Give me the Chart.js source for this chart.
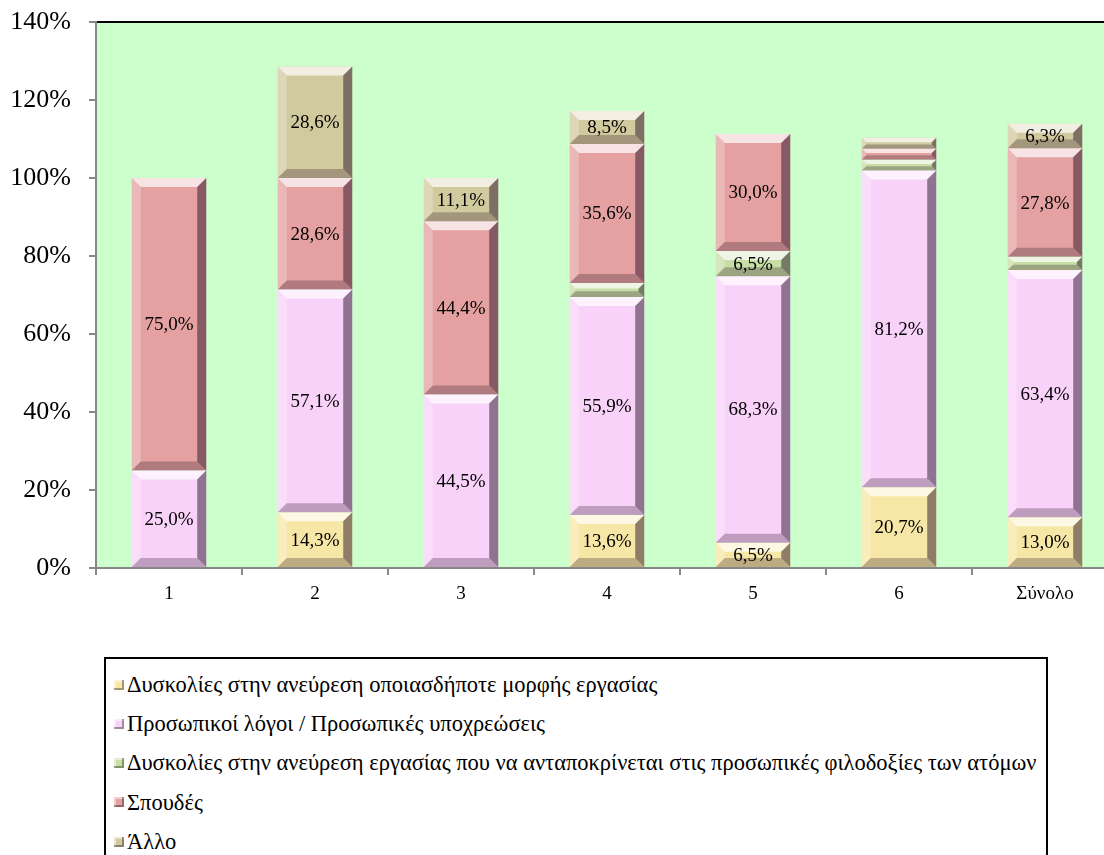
<!DOCTYPE html>
<html>
<head>
<meta charset="utf-8">
<script src="https://cdn.jsdelivr.net/npm/chart.js@4/dist/chart.umd.min.js"></script>
<style>
  html, body { margin:0; padding:0; background:#fff; overflow:hidden; width:1104px; height:855px; }
  #wrap { position:absolute; left:0; top:0; }
  #legend { position:absolute; left:104px; top:657px; width:944px; height:230px; border:2px solid #000; box-sizing:border-box; padding-top:6px; font-family:'Liberation Serif','Times New Roman',serif; font-size:22.5px; color:#000; white-space:nowrap; }
  .li { height:39.2px; line-height:39px; padding-left:8px; }
  .mk { display:inline-block; width:10px; height:10px; margin-right:3px; vertical-align:middle; position:relative; top:-2px; box-shadow: inset -2px -2px 0 rgba(0,0,0,0.35), inset 2px 2px 0 rgba(255,255,255,0.5); }
</style>
</head>
<body>
<div id="wrap"><canvas id="c" width="1130" height="620"></canvas></div>
<div id="legend"></div>
<script>
const categories = ['1', '2', '3', '4', '5', '6', 'Σύνολο'];
const seriesNames = [
  'Δυσκολίες στην ανεύρεση οποιασδήποτε μορφής εργασίας',
  'Προσωπικοί λόγοι / Προσωπικές υποχρεώσεις',
  'Δυσκολίες στην ανεύρεση εργασίας που να ανταποκρίνεται στις προσωπικές φιλοδοξίες των ατόμων',
  'Σπουδές',
  'Άλλο'
];
const difficultyAny   = [0,    14.3, 0,    13.6, 6.5,  20.7, 13.0];
const personal        = [25.0, 57.1, 44.5, 55.9, 68.3, 81.2, 63.4];
const difficultyAmbit = [0,    0,    0,    3.6,  6.5,  2.8,  3.4];
const studies         = [75.0, 28.6, 44.4, 35.6, 30.0, 2.8,  27.8];
const other           = [0,    28.6, 11.1, 8.5,  0,    2.8,  6.3];
const yTicks = [0, 20, 40, 60, 80, 100, 120, 140];

const seriesValues = [difficultyAny, personal, difficultyAmbit, studies, other];
const seriesColors = ['#F7E7A6', '#F8D2F8', '#C9DDA6', '#E5A1A1', '#D2CA9F'];

const bgPlugin = {
  id: 'bg',
  beforeDraw(chart) {
    const {ctx, chartArea: a} = chart;
    ctx.save();
    ctx.fillStyle = '#CCFFCC';
    ctx.fillRect(a.left, a.top, a.right - a.left, a.bottom - a.top);
    ctx.strokeStyle = '#000';
    ctx.lineWidth = 2;
    ctx.beginPath();
    ctx.moveTo(a.left, a.top);
    ctx.lineTo(a.right, a.top);
    ctx.lineTo(a.right, a.bottom);
    ctx.stroke();
    ctx.restore();
  }
};

const bevelPlugin = {
  id: 'bevel',
  afterDatasetsDraw(chart) {
    const ctx = chart.ctx;
    ctx.save();
    chart.data.datasets.forEach((ds, di) => {
      const meta = chart.getDatasetMeta(di);
      meta.data.forEach((el, i) => {
        if (!ds.data[i]) return;
        const p = el.getProps(['x', 'y', 'base', 'width'], true);
        const l = p.x - p.width / 2, r = p.x + p.width / 2;
        const t = Math.min(p.y, p.base), bt = Math.max(p.y, p.base);
        const h = bt - t;
        const b = Math.min(9, h / 2.5);
        const poly = (pts, fill) => {
          ctx.beginPath();
          ctx.moveTo(pts[0][0], pts[0][1]);
          for (let k = 1; k < pts.length; k++) ctx.lineTo(pts[k][0], pts[k][1]);
          ctx.closePath();
          ctx.fillStyle = fill;
          ctx.fill();
        };
        poly([[l, t], [r, t], [r - b, t + b], [l + b, t + b]], 'rgba(255,255,255,0.7)');
        poly([[l, t], [l + b, t + b], [l + b, bt - b], [l, bt]], 'rgba(255,255,255,0.25)');
        poly([[r, t], [r, bt], [r - b, bt - b], [r - b, t + b]], 'rgba(40,20,40,0.5)');
        poly([[l, bt], [r, bt], [r - b, bt - b], [l + b, bt - b]], 'rgba(40,20,40,0.28)');
      });
    });
    ctx.restore();
  }
};

const labelPlugin = {
  id: 'vals',
  afterDatasetsDraw(chart) {
    const ctx = chart.ctx;
    ctx.save();
    ctx.font = '19px "Liberation Serif", "Times New Roman", serif';
    ctx.fillStyle = '#000';
    ctx.textAlign = 'center';
    ctx.textBaseline = 'middle';
    chart.data.datasets.forEach((ds, di) => {
      const meta = chart.getDatasetMeta(di);
      meta.data.forEach((el, i) => {
        const v = ds.data[i];
        if (!v || v < 5) return;
        const p = el.getProps(['x', 'y', 'base'], true);
        ctx.fillText(v.toFixed(1).replace('.', ',') + '%', p.x, (p.y + p.base) / 2 + 1);
      });
    });
    ctx.restore();
  }
};

const chart = new Chart(document.getElementById('c'), {
  type: 'bar',
  data: {
    labels: categories,
    datasets: seriesNames.map((name, i) => ({
      label: name,
      data: seriesValues[i],
      backgroundColor: seriesColors[i],
      borderWidth: 0,
      categoryPercentage: 1,
      barPercentage: 0.51
    }))
  },
  options: {
    responsive: false,
    animation: false,
    devicePixelRatio: 1,
    layout: { padding: { left: 0, top: 22, right: 12, bottom: 0 } },
    plugins: { legend: { display: false }, tooltip: { enabled: false } },
    scales: {
      x: {
        stacked: true,
        grid: { offset: true, drawOnChartArea: false, drawTicks: true, tickLength: 7, color: '#888', lineWidth: 2 },
        border: { color: '#888', width: 2 },
        ticks: { color: '#000', font: { family: '"Liberation Serif", "Times New Roman", serif', size: 19 }, padding: 8 },
        afterFit(s) { s.height = 52; s.paddingLeft = 0; s.paddingRight = 0; }
      },
      y: {
        stacked: true,
        min: 0, max: 140,
        afterBuildTicks(s) { s.ticks = yTicks.map(v => ({ value: v })); },
        grid: { drawOnChartArea: false, drawTicks: true, tickLength: 7, color: '#888', lineWidth: 2 },
        border: { color: '#888', width: 2 },
        ticks: { color: '#000', font: { family: '"Liberation Serif", "Times New Roman", serif', size: 26 }, padding: 18, callback: v => v + '%' },
        afterFit(s) { s.width = 96; s.paddingTop = 0; s.paddingBottom = 0; }
      }
    }
  },
  plugins: [bgPlugin, bevelPlugin, labelPlugin]
});

const legend = document.getElementById('legend');
chart.data.datasets.forEach(ds => {
  const row = document.createElement('div');
  row.className = 'li';
  const mk = document.createElement('span');
  mk.className = 'mk';
  mk.style.background = ds.backgroundColor;
  row.appendChild(mk);
  row.appendChild(document.createTextNode(ds.label));
  legend.appendChild(row);
});
</script>
</body>
</html>
